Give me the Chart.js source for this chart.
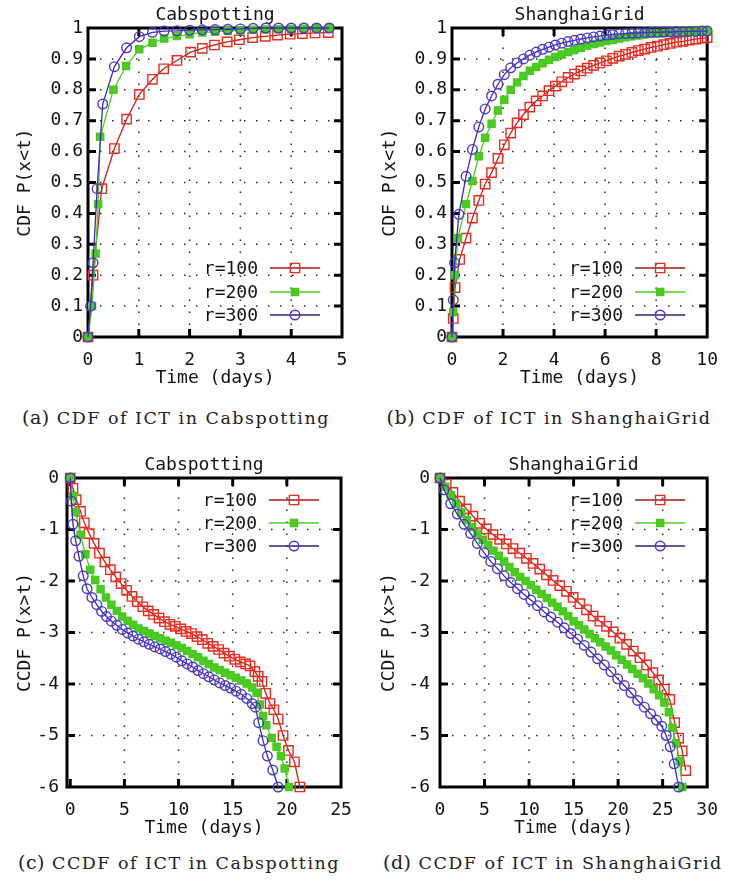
<!DOCTYPE html>
<html><head><meta charset="utf-8">
<script src="https://cdn.jsdelivr.net/npm/chart.js@4.4.0/dist/chart.umd.min.js"></script>
<style>
html,body{margin:0;padding:0;background:#fff;}
body{width:731px;height:882px;position:relative;overflow:hidden;}
canvas{position:absolute;}
.cap{position:absolute;height:26px;line-height:26px;font-family:"DejaVu Serif",serif;font-size:17.5px;letter-spacing:1.5px;color:#222;white-space:nowrap;text-align:center;}
.cap .lab{font-size:19px;letter-spacing:0.5px;}
</style></head><body>
<canvas id="pa" width="365" height="395" style="left:0;top:0"></canvas>
<canvas id="pb" width="366" height="395" style="left:365px;top:0"></canvas>
<canvas id="pc" width="365" height="395" style="left:0;top:450px"></canvas>
<canvas id="pd" width="366" height="395" style="left:365px;top:450px"></canvas>
<div class="cap" style="left:10px;width:332px;top:404px"><span class="lab">(a)</span> CDF of ICT in Cabspotting</div>
<div class="cap" style="left:385px;width:328px;top:404px"><span class="lab">(b)</span> CDF of ICT in ShanghaiGrid</div>
<div class="cap" style="left:10px;width:338px;top:849px"><span class="lab">(c)</span> CCDF of ICT in Cabspotting</div>
<div class="cap" style="left:383px;width:338px;top:849px"><span class="lab">(d)</span> CCDF of ICT in ShanghaiGrid</div>
<script>
// ---------------- DATA ----------------
const seriesLabels = ['r=100', 'r=200', 'r=300'];
const timeTitle = 'Time (days)';
const cdfTitle = 'CDF P(x<t)';
const ccdfTitle = 'CCDF P(x>t)';
const panelTitles = ['Cabspotting', 'ShanghaiGrid', 'Cabspotting', 'ShanghaiGrid'];

// tick labels
const cdfYTicks = [0, 0.1, 0.2, 0.3, 0.4, 0.5, 0.6, 0.7, 0.8, 0.9, 1];
const ccdfYTicks = [0, -1, -2, -3, -4, -5, -6];
const aXTicks = [0, 1, 2, 3, 4, 5];
const bXTicks = [0, 2, 4, 6, 8, 10];
const cXTicks = [0, 5, 10, 15, 20, 25];
const dXTicks = [0, 5, 10, 15, 20, 25, 30];

// (a) CDF of ICT, Cabspotting
const a100x = [0, 0.1, 0.27, 0.52, 0.76, 1.01, 1.27, 1.49, 1.75, 2.02, 2.25, 2.49, 2.74, 2.98, 3.24, 3.49, 3.73, 3.98, 4.22, 4.47, 4.73];
const a100y = [0, 0.2, 0.48, 0.61, 0.705, 0.785, 0.834, 0.868, 0.895, 0.922, 0.934, 0.945, 0.955, 0.962, 0.969, 0.973, 0.977, 0.98, 0.982, 0.984, 0.985];
const a200x = [0, 0.08, 0.15, 0.2, 0.24, 0.5, 0.75, 1.01, 1.27, 1.5, 1.75, 2.0, 2.25, 2.5, 2.75, 3.0, 3.25, 3.5, 3.75, 4.0, 4.25, 4.5, 4.75];
const a200y = [0, 0.1, 0.27, 0.43, 0.648, 0.8, 0.877, 0.931, 0.952, 0.966, 0.974, 0.98, 0.985, 0.988, 0.99, 0.992, 0.994, 0.995, 0.996, 0.997, 0.998, 0.999, 1.0];
const a300x = [0, 0.05, 0.1, 0.18, 0.29, 0.52, 0.76, 1.01, 1.27, 1.5, 1.75, 2.0, 2.25, 2.5, 2.75, 3.0, 3.25, 3.5, 3.75, 4.0, 4.25, 4.5, 4.75];
const a300y = [0, 0.1, 0.24, 0.48, 0.754, 0.875, 0.936, 0.972, 0.986, 0.99, 0.991, 0.993, 0.994, 0.995, 0.996, 0.997, 0.999, 1.0, 1.0, 1.0, 1.0, 1.0, 1.0];

// (b) CDF of ICT, ShanghaiGrid
const bTail = [0.55, 0.8, 1.05, 1.3, 1.55, 1.8, 2.05, 2.3, 2.55, 2.8, 3.05, 3.3, 3.55, 3.8, 4.05, 4.3, 4.55, 4.8, 5.05, 5.3, 5.55, 5.8, 6.05, 6.3, 6.55, 6.8, 7.05, 7.3, 7.55, 7.8, 8.05, 8.3, 8.55, 8.8, 9.05, 9.3, 9.55, 9.8, 10.0];
const b100x = [0, 0.05, 0.12, 0.3].concat(bTail);
const b100y = [0, 0.06, 0.16, 0.251, 0.32, 0.385, 0.442, 0.495, 0.532, 0.578, 0.622, 0.66, 0.693, 0.72, 0.744, 0.764, 0.78, 0.797, 0.812, 0.826, 0.84, 0.851, 0.861, 0.87, 0.879, 0.887, 0.894, 0.902, 0.909, 0.915, 0.921, 0.927, 0.932, 0.937, 0.941, 0.946, 0.95, 0.954, 0.957, 0.961, 0.964, 0.967, 0.969];
const b200x = [0, 0.05, 0.12, 0.23].concat(bTail);
const b200y = [0, 0.08, 0.2, 0.32, 0.43, 0.505, 0.585, 0.645, 0.69, 0.733, 0.768, 0.8, 0.824, 0.845, 0.862, 0.874, 0.886, 0.897, 0.906, 0.914, 0.922, 0.929, 0.936, 0.943, 0.948, 0.953, 0.958, 0.962, 0.966, 0.97, 0.973, 0.976, 0.979, 0.981, 0.983, 0.984, 0.985, 0.986, 0.987, 0.988, 0.989, 0.99, 0.99];
const b300x = [0, 0.05, 0.1, 0.27].concat(bTail);
const b300y = [0, 0.12, 0.24, 0.397, 0.52, 0.607, 0.68, 0.738, 0.78, 0.818, 0.849, 0.871, 0.887, 0.9, 0.912, 0.922, 0.931, 0.938, 0.945, 0.951, 0.956, 0.96, 0.964, 0.968, 0.971, 0.974, 0.977, 0.979, 0.981, 0.982, 0.983, 0.984, 0.985, 0.986, 0.986, 0.987, 0.987, 0.988, 0.988, 0.989, 0.989, 0.99, 0.99];

// (c) CCDF of ICT, Cabspotting (log10)
const c100x = [0, 0.25, 0.55, 0.95, 1.3, 1.75, 2.2, 2.7, 3.2, 3.7, 4.2, 4.7, 5.2, 5.7, 6.2, 6.7, 7.2, 7.7, 8.2, 8.7, 9.2, 9.7, 10.2, 10.7, 11.2, 11.7, 12.2, 12.7, 13.2, 13.7, 14.2, 14.7, 15.2, 15.7, 16.2, 16.6, 17.05, 17.35, 17.7, 18.05, 18.45, 18.8, 19.2, 19.65, 20.15, 20.7, 21.2];
const c100y = [0, -0.2, -0.42, -0.65, -0.87, -1.08, -1.27, -1.46, -1.63, -1.78, -1.92, -2.05, -2.18, -2.3, -2.4, -2.5, -2.58, -2.65, -2.72, -2.79, -2.84, -2.88, -2.93, -2.98, -3.02, -3.08, -3.14, -3.21, -3.27, -3.33, -3.4, -3.46, -3.52, -3.57, -3.61, -3.65, -3.76, -3.85, -3.95, -4.18, -4.38, -4.5, -4.68, -5.0, -5.29, -5.51, -6.0];
const c200x = [0, 0.25, 0.5, 0.95, 1.4, 1.85, 2.3, 2.8, 3.3, 3.8, 4.3, 4.8, 5.3, 5.8, 6.3, 6.8, 7.3, 7.8, 8.3, 8.8, 9.3, 9.8, 10.3, 10.8, 11.3, 11.8, 12.3, 12.8, 13.3, 13.8, 14.3, 14.8, 15.3, 15.8, 16.3, 16.8, 17.2, 17.5, 17.8, 18.1, 18.6, 19.05, 19.45, 19.8, 20.2];
const c200y = [0, -0.35, -0.66, -1.1, -1.48, -1.78, -1.98, -2.16, -2.32, -2.46, -2.58, -2.69, -2.77, -2.85, -2.92, -2.97, -3.02, -3.07, -3.11, -3.16, -3.2, -3.25, -3.3, -3.36, -3.42, -3.48, -3.55, -3.61, -3.68, -3.73, -3.78, -3.83, -3.88, -3.93, -3.99, -4.07, -4.17, -4.4, -4.62, -4.8, -5.05, -5.22, -5.4, -5.64, -6.0];
const c300x = [0, 0.1, 0.25, 0.5, 0.8, 1.2, 1.55, 2.0, 2.45, 2.9, 3.35, 3.8, 4.3, 4.8, 5.3, 5.8, 6.3, 6.8, 7.3, 7.8, 8.3, 8.8, 9.3, 9.8, 10.3, 10.8, 11.3, 11.8, 12.3, 12.8, 13.3, 13.8, 14.3, 14.8, 15.3, 15.8, 16.3, 16.8, 17.1, 17.4, 17.8, 18.2, 18.7, 19.2];
const c300y = [0, -0.45, -0.9, -1.22, -1.52, -1.9, -2.15, -2.32, -2.46, -2.59, -2.69, -2.78, -2.86, -2.94, -3.01, -3.07, -3.13, -3.18, -3.23, -3.28, -3.32, -3.37, -3.42, -3.48, -3.55, -3.61, -3.67, -3.74, -3.8, -3.86, -3.92, -3.98, -4.03, -4.08, -4.14, -4.2, -4.28, -4.38, -4.45, -4.75, -5.1, -5.4, -5.67, -6.0];

// (d) CCDF of ICT, ShanghaiGrid (log10)
const d100x = [0, 0.7, 1.45, 2.2, 2.95, 3.7, 4.45, 5.2, 5.95, 6.7, 7.45, 8.2, 8.95, 9.7, 10.45, 11.2, 11.95, 12.7, 13.45, 14.2, 14.95, 15.7, 16.45, 17.2, 17.95, 18.7, 19.45, 20.2, 20.95, 21.7, 22.45, 23.2, 23.9, 24.55, 25.2, 25.8, 26.35, 26.8, 27.2, 27.6];
const d100y = [0, -0.12, -0.28, -0.45, -0.6, -0.74, -0.88, -0.99, -1.1, -1.19, -1.28, -1.37, -1.46, -1.56, -1.66, -1.77, -1.88, -1.99, -2.09, -2.2, -2.32, -2.44, -2.56, -2.68, -2.78, -2.88, -2.99, -3.11, -3.23, -3.36, -3.49, -3.63, -3.78, -3.92, -4.1, -4.3, -4.75, -5.05, -5.3, -5.68];
const d200x = [0, 0.6, 1.2, 1.8, 2.4, 3.0, 3.6, 4.2, 4.8, 5.4, 6.0, 6.6, 7.2, 7.8, 8.4, 9.0, 9.6, 10.2, 10.8, 11.4, 12.0, 12.6, 13.2, 13.8, 14.4, 15.0, 15.6, 16.2, 16.8, 17.4, 18.0, 18.6, 19.2, 19.8, 20.4, 21.0, 21.6, 22.2, 22.8, 23.4, 24.0, 24.6, 25.2, 25.7, 26.1, 26.5, 26.9, 27.2];
const d200y = [0, -0.17, -0.33, -0.5, -0.67, -0.82, -0.95, -1.08, -1.2, -1.3, -1.41, -1.51, -1.62, -1.73, -1.83, -1.92, -2.0, -2.08, -2.17, -2.25, -2.33, -2.42, -2.5, -2.59, -2.68, -2.78, -2.86, -2.94, -3.03, -3.11, -3.19, -3.27, -3.35, -3.44, -3.53, -3.62, -3.71, -3.8, -3.89, -3.99, -4.1, -4.22, -4.36, -4.55, -4.85, -5.15, -5.5, -6.0];
const d300x = [0, 0.45, 1.2, 1.95, 2.7, 3.45, 4.2, 4.95, 5.7, 6.45, 7.2, 7.95, 8.7, 9.45, 10.2, 10.95, 11.7, 12.45, 13.2, 13.95, 14.7, 15.45, 16.2, 16.95, 17.7, 18.45, 19.2, 19.95, 20.7, 21.45, 22.2, 22.95, 23.65, 24.3, 24.9, 25.4, 25.85, 26.3, 26.8];
const d300y = [0, -0.23, -0.5, -0.7, -0.9, -1.08, -1.27, -1.45, -1.62, -1.76, -1.9, -2.03, -2.15, -2.26, -2.37, -2.48, -2.6, -2.7, -2.8, -2.91, -3.02, -3.13, -3.25, -3.38, -3.51, -3.63, -3.76, -3.9, -4.03, -4.17, -4.32, -4.45, -4.58, -4.7, -4.82, -5.0, -5.22, -5.55, -6.0];

// ---------------- STYLE / RENDER ----------------
const FONT = '"DejaVu Sans Mono", monospace';
const TXT = '#141414';
const STY = [
  {line: '#c4221c', mark: '#ee2a1e', fill: 'rgba(0,0,0,0)', shape: 'rect', radius: 6.6, key: '#a01a16'},
  {line: '#4ccc22', mark: '#46c81c', fill: '#4ccc22', shape: 'rect', radius: 5, key: '#4ccc22'},
  {line: '#3a2ab4', mark: '#4a38c6', fill: 'rgba(0,0,0,0)', shape: 'circle', radius: 4.8, key: '#2c2478'}
];

function pts(xs, ys) { return xs.map((x, i) => ({x: x, y: ys[i]})); }

function marker(ctx, st, x, y) {
  ctx.save();
  ctx.lineWidth = 1.4;
  ctx.strokeStyle = st.mark;
  ctx.fillStyle = st.fill;
  ctx.beginPath();
  if (st.shape === 'rect') {
    const s = Math.SQRT1_2 * st.radius;
    ctx.rect(x - s, y - s, 2 * s, 2 * s);
  } else {
    ctx.arc(x, y, st.radius, 0, Math.PI * 2);
  }
  ctx.fill();
  ctx.stroke();
  ctx.restore();
}

const gnuFrame = {
  id: 'gnuFrame',
  beforeDatasetsDraw(chart, args, o) {
    const ctx = chart.ctx, a = chart.chartArea, sx = chart.scales.x, sy = chart.scales.y;
    ctx.save();
    // dotted grid
    ctx.strokeStyle = '#2a2a2a';
    ctx.lineWidth = 1.5;
    ctx.setLineDash([1.5, 10.5]);
    o.xTicks.forEach(v => {
      const px = sx.getPixelForValue(v);
      if (px > a.left + 5 && px < a.right - 5) {
        ctx.beginPath(); ctx.moveTo(px, a.bottom); ctx.lineTo(px, a.top); ctx.stroke();
      }
    });
    o.yTicks.forEach(v => {
      const py = sy.getPixelForValue(v);
      if (py > a.top + 5 && py < a.bottom - 5) {
        ctx.beginPath(); ctx.moveTo(a.left, py); ctx.lineTo(a.right, py); ctx.stroke();
      }
    });
    ctx.setLineDash([]);
    // border
    ctx.strokeStyle = '#000';
    ctx.lineWidth = 3;
    ctx.strokeRect(a.left, a.top, a.right - a.left, a.bottom - a.top);
    // inward tick marks on all four sides
    const tl = 8;
    o.xTicks.forEach(v => {
      const px = sx.getPixelForValue(v);
      if (px > a.left + 3 && px < a.right - 3) {
        ctx.beginPath();
        ctx.moveTo(px, a.bottom); ctx.lineTo(px, a.bottom - tl);
        ctx.moveTo(px, a.top); ctx.lineTo(px, a.top + tl);
        ctx.stroke();
      }
    });
    o.yTicks.forEach(v => {
      const py = sy.getPixelForValue(v);
      if (py > a.top + 3 && py < a.bottom - 3) {
        ctx.beginPath();
        ctx.moveTo(a.left, py); ctx.lineTo(a.left + tl, py);
        ctx.moveTo(a.right, py); ctx.lineTo(a.right - tl, py);
        ctx.stroke();
      }
    });
    ctx.restore();
  },
  afterDatasetsDraw(chart, args, o) {
    const ctx = chart.ctx, a = chart.chartArea;
    chart.data.datasets.forEach((ds, i) => {
      const st = STY[i];
      const y = o.keyAtBottom ? a.bottom - o.rows[2 - i] : a.top + o.rows[i];
      ctx.save();
      ctx.font = '18px ' + FONT;
      ctx.fillStyle = TXT;
      ctx.textAlign = 'right';
      ctx.textBaseline = 'middle';
      ctx.fillText(ds.label, a.right - o.textGap, y + 1);
      ctx.strokeStyle = st.key;
      ctx.lineWidth = 1.5;
      ctx.beginPath();
      ctx.moveTo(a.right - o.lineFrom, y);
      ctx.lineTo(a.right - o.lineTo, y);
      ctx.stroke();
      marker(ctx, st, a.right - (o.lineFrom + o.lineTo) / 2, y);
      ctx.restore();
    });
  }
};

function build(id, p) {
  const cv = document.getElementById(id);
  const W = cv.width, H = cv.height, A = p.area;
  const datasets = p.series.map((s, i) => ({
    label: seriesLabels[i],
    data: pts(s[0], s[1]),
    showLine: true,
    borderColor: STY[i].line,
    borderWidth: 1.3,
    pointStyle: STY[i].shape,
    pointRadius: STY[i].radius,
    pointHoverRadius: STY[i].radius,
    pointBorderColor: STY[i].mark,
    pointBackgroundColor: STY[i].fill,
    pointBorderWidth: 1.4,
    tension: 0,
    fill: false,
    clip: false,
    order: 3 - i
  }));
  const tickFont = {family: FONT, size: 18};
  return new Chart(cv, {
    type: 'scatter',
    data: {datasets: datasets},
    options: {
      responsive: false,
      animation: false,
      devicePixelRatio: 1,
      events: [],
      layout: {padding: {left: 0, right: W - A.right, top: 0, bottom: 0}},
      plugins: {
        legend: {display: false},
        tooltip: {enabled: false},
        title: {
          display: true, text: p.title, fullSize: false, color: TXT,
          font: {family: FONT, size: 18, weight: 'normal'},
          padding: {top: 4.5, bottom: A.top - 21.6 - 4.5}
        },
        gnuFrame: {xTicks: p.xTicks, yTicks: p.yTicks, keyAtBottom: p.keyAtBottom,
                   rows: p.keyAtBottom ? [22, 45, 69] : [22, 45, 68], textGap: 84, lineFrom: 72, lineTo: 22}
      },
      scales: {
        x: {
          type: 'linear', position: 'bottom', min: p.xMin, max: p.xMax,
          afterBuildTicks: s => { s.ticks = p.xTicks.map(v => ({value: v})); },
          afterFit: s => { s.height = H - A.bottom; },
          grid: {display: false, drawTicks: false},
          border: {display: false},
          ticks: {font: tickFont, color: TXT, padding: 13, maxRotation: 0, autoSkip: false,
                  callback: v => String(v)},
          title: {display: true, text: timeTitle, color: TXT, font: tickFont, padding: {top: 0, bottom: 6}}
        },
        y: {
          type: 'linear', position: 'left', min: p.yMin, max: p.yMax,
          afterBuildTicks: s => { s.ticks = p.yTicks.map(v => ({value: v})); },
          afterFit: s => { s.width = A.left; },
          grid: {display: false, drawTicks: false},
          border: {display: false},
          ticks: {font: tickFont, color: TXT, padding: p.yPad, autoSkip: false,
                  callback: v => String(v)},
          title: {display: true, text: p.yTitle, color: TXT, font: tickFont, padding: {top: p.yTitlePad, bottom: 0}}
        }
      }
    },
    plugins: [gnuFrame]
  });
}

build('pa', {title: panelTitles[0], area: {left: 88, right: 342, top: 28, bottom: 337},
  xMin: 0, xMax: 5, yMin: 0, yMax: 1, xTicks: aXTicks, yTicks: cdfYTicks, yTitle: cdfTitle,
  yPad: 5, yTitlePad: 15, keyAtBottom: true,
  series: [[a100x, a100y], [a200x, a200y], [a300x, a300y]]});
build('pb', {title: panelTitles[1], area: {left: 87, right: 343, top: 28, bottom: 337},
  xMin: 0, xMax: 10, yMin: 0, yMax: 1, xTicks: bXTicks, yTicks: cdfYTicks, yTitle: cdfTitle,
  yPad: 5, yTitlePad: 15, keyAtBottom: true,
  series: [[b100x, b100y], [b200x, b200y], [b300x, b300y]]});
build('pc', {title: panelTitles[2], area: {left: 67, right: 341, top: 28, bottom: 337},
  xMin: -0.3, xMax: 25, yMin: -6, yMax: 0, xTicks: cXTicks, yTicks: ccdfYTicks, yTitle: ccdfTitle,
  yPad: 8, yTitlePad: 15, keyAtBottom: false,
  series: [[c100x, c100y], [c200x, c200y], [c300x, c300y]]});
build('pd', {title: panelTitles[3], area: {left: 75, right: 348, top: 28, bottom: 337},
  xMin: 0, xMax: 30, yMin: -6, yMax: 0, xTicks: dXTicks, yTicks: ccdfYTicks, yTitle: ccdfTitle,
  yPad: 10, yTitlePad: 14, keyAtBottom: false,
  series: [[d100x, d100y], [d200x, d200y], [d300x, d300y]]});
</script>
</body></html>
